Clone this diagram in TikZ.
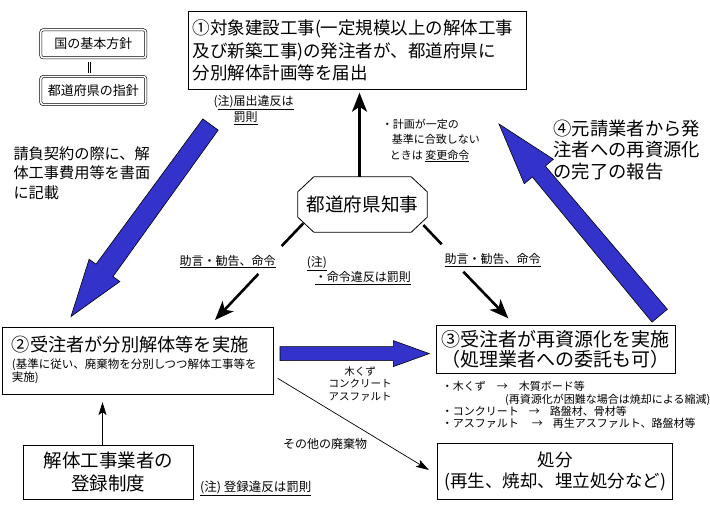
\documentclass[tikz,border=0pt]{standalone}
\usepackage{fontspec}
\setmainfont{Noto Sans CJK JP}
\usetikzlibrary{arrows.meta,calc}
\definecolor{arrowblue}{RGB}{51,51,204}
\newcommand\fsz[2]{\fontsize{#1}{#2}\selectfont}
% #1 tail, #2 tip, #3 tail half width, #4 shaft half width at head, #5 head half width, #6 head length
\newcommand\blkarrow[6]{%
  \path ($(#2)!#6!(#1)$) coordinate (bh);
  \filldraw[blockarr] ($(#1)!#3!90:(#2)$) -- ($(bh)!#4!90:(#2)$) -- ($(bh)!#5!90:(#2)$) -- (#2) -- ($(bh)!#5!-90:(#2)$) -- ($(bh)!#4!-90:(#2)$) -- ($(#1)!#3!-90:(#2)$) -- cycle;}

\begin{document}
\begin{tikzpicture}[x=1pt,y=-1pt,
  box/.style={draw, line width=0.8pt, inner sep=0pt, align=center},
  lbl/.style={inner sep=0pt, align=left},
  blockarr/.style={fill=arrowblue, draw=black, line width=0.6pt, line join=miter},
  thickarr/.style={line width=2.6pt, -{Stealth[length=19pt,width=15pt,inset=5pt]}},
  thickln/.style={line width=2.6pt},
  thinarr/.style={line width=0.7pt, -{Stealth[length=13pt,width=8pt,inset=3pt]}},
  dbox/.style={draw, double, double distance=1.6pt, line width=0.6pt, rounded corners=2.5pt,
    minimum width=105pt, minimum height=28pt, inner sep=0pt, font=\fsz{13}{15}}
]
\fill[white] (0,0) rectangle (710,506);
\useasboundingbox (0,0) rectangle (710,506);

% ---- boxes ----
\node[box, minimum width=338.4pt, minimum height=77.6pt, text width=330pt, align=left,
  font=\fsz{17.5}{22.2}] (notify) at (357.5,50.5)
  {①対象建設工事(一定規模以上の解体工事\\及び新築工事)の発注者が、都道府県に\\分別解体計画等を届出};

\node[box, minimum width=270.3pt, minimum height=67pt] (demolish) at (137.85,360.8) {};
\node[lbl, anchor=west, font=\fsz{18.2}{22}] (demolishtitle) at (11.7,345) {②受注者が分別解体等を実施};
\node[lbl, anchor=west, font=\fsz{11.5}{11}] (demolishnote) at (11.7,371.5)
  {(基準に従い、廃棄物を分別しつつ解体工事等を\\実施)};

\node[box, minimum width=239pt, minimum height=48.3pt, font=\fsz{19}{20.3}] (recycle)
  at (555.5,349.2) {③受注者が再資源化を実施\\（処理業者への委託も可）};

\node[box, minimum width=235.4pt, minimum height=56pt, font=\fsz{17.5}{21.7}] (dispose)
  at (555,471.3) {処分\\(再生、焼却、埋立処分など)};

\node[box, minimum width=170pt, minimum height=54.3pt, font=\fsz{18.5}{22.7}] (regist)
  at (108.3,472.2) {解体工事業者の\\登録制度};

\node[minimum width=129pt, minimum height=55pt, inner sep=0pt, font=\fsz{18.6}{20}] (gov)
  at (362.5,204.5) {都道府県知事};
\draw[line width=0.8pt] ([xshift=16pt]gov.north west) -- ([xshift=-16pt]gov.north east)
  -- ([yshift=-15pt]gov.north east) -- ([yshift=15pt]gov.south east)
  -- ([xshift=-16pt]gov.south east) -- ([xshift=16pt]gov.south west)
  -- ([yshift=15pt]gov.south west) -- ([yshift=-15pt]gov.north west) -- cycle;

\node[dbox] (natpolicy) at (93.3,43.8) {国の基本方針};
\node[dbox] (prefpolicy) at (93.3,90.5) {都道府県の指針};
\draw[double, double distance=1.6pt, line width=0.6pt, shorten <=3.5pt, shorten >=3.5pt]
  ([xshift=-3.8pt]natpolicy.south) -- ([xshift=-3.8pt]prefpolicy.north);

% ---- free texts ----
\node[lbl, anchor=west, font=\fsz{15.2}{19.7}] (contract) at (13.3,173)
  {請負契約の際に、解\\体工事費用等を書面\\に記載};
\node[lbl, anchor=west, font=\fsz{18.3}{21.7}] (report) at (553.3,150)
  {④元請業者から発\\注者への再資源化\\の完了の報告};
\node[lbl, anchor=west, font=\fsz{11}{15.5}] (plannote) at (381.7,140.5)
  {・計画が一定の\\\hspace*{10pt}基準に合致しない\\\hspace*{8pt}ときは \underline{変更命令}};
\node[lbl, anchor=west, font=\fsz{12}{16.6}] (notifynote) at (213.3,110)
  {(\underline{注)届出違反は}\\\hspace*{20pt}\underline{罰則}};
\node[lbl, anchor=center, font=\fsz{12}{14}] (advL) at (227.5,261.7) {\underline{助言・勧告、命令}};
\node[lbl, anchor=center, font=\fsz{12}{14}] (advR) at (492.5,260) {\underline{助言・勧告、命令}};
\node[lbl, anchor=west, font=\fsz{12}{14.4}] (ordernote) at (306.7,270.5)
  {\underline{(注)}\\\hspace*{8pt}\underline{・命令違反は罰則}};
\node[lbl, align=center, font=\fsz{10.5}{12.5}] (materials) at (360,384)
  {木くず\\コンクリート\\アスファルト};
\node[lbl, anchor=west, font=\fsz{12}{14}] (otherwaste) at (283,444) {その他の廃棄物};
\node[lbl, anchor=west, font=\fsz{12.5}{14}] (registnote) at (200,488.3) {\underline{(注) 登録違反は罰則}};
\node[lbl, anchor=west, font=\fsz{11}{12.2}] (uselist) at (441.7,405)
  {・木くず\hspace{11pt}→\hspace{11pt}木質ボード等\\
   \hspace*{63.3pt}(再資源化が困難な場合は焼却による縮減)\\
   ・コンクリート\hspace{10pt}→\hspace{10pt}路盤材、骨材等\\
   ・アスファルト\hspace{13pt}→\hspace{10pt}再生アスファルト、路盤材等};

% ---- black connectors ----
\draw[thickarr] ([xshift=-3pt]gov.north) -- ([xshift=-3pt,yshift=-3pt]gov.north |- notify.south);

\coordinate (advLa) at (303.3,223.3);
\coordinate (advLb) at (281.7,246);
\coordinate (advLc) at (258.3,274);
\coordinate (advLd) at (215,320);
\draw[thickln] (advLa) -- (advLb);
\draw[thickarr] (advLc) -- (advLd);

\coordinate (advRa) at (423.3,225);
\coordinate (advRb) at (441.7,244.3);
\coordinate (advRc) at (463.3,271.7);
\coordinate (advRd) at (508.3,318.3);
\draw[thickln] (advRa) -- (advRb);
\draw[thickarr] (advRc) -- (advRd);

\draw[thinarr] ([xshift=-5.8pt]regist.north) -- ([xshift=-5.8pt,yshift=-7.4pt]regist.north |- demolish.south);
\draw[thinarr] ($(demolish.east)+(4.3,17.5)$) -- ($(dispose.west)+(-8,-1.3)$);

% ---- blue block arrows ----
\coordinate (contractT) at (210.5,124.5);
\coordinate (contractH) at (71,316.5);
\blkarrow{contractT}{contractH}{9.5pt}{10.5pt}{19pt}{57pt}

\coordinate (reportT) at (659.7,315.7);
\coordinate (reportH) at (499,124);
\blkarrow{reportT}{reportH}{10pt}{8.5pt}{19pt}{62pt}

\coordinate (materialT) at (280,353.6);
\coordinate (materialH) at (429.3,353.6);
\blkarrow{materialT}{materialH}{7pt}{7pt}{13pt}{36pt}
\end{tikzpicture}
\end{document}
